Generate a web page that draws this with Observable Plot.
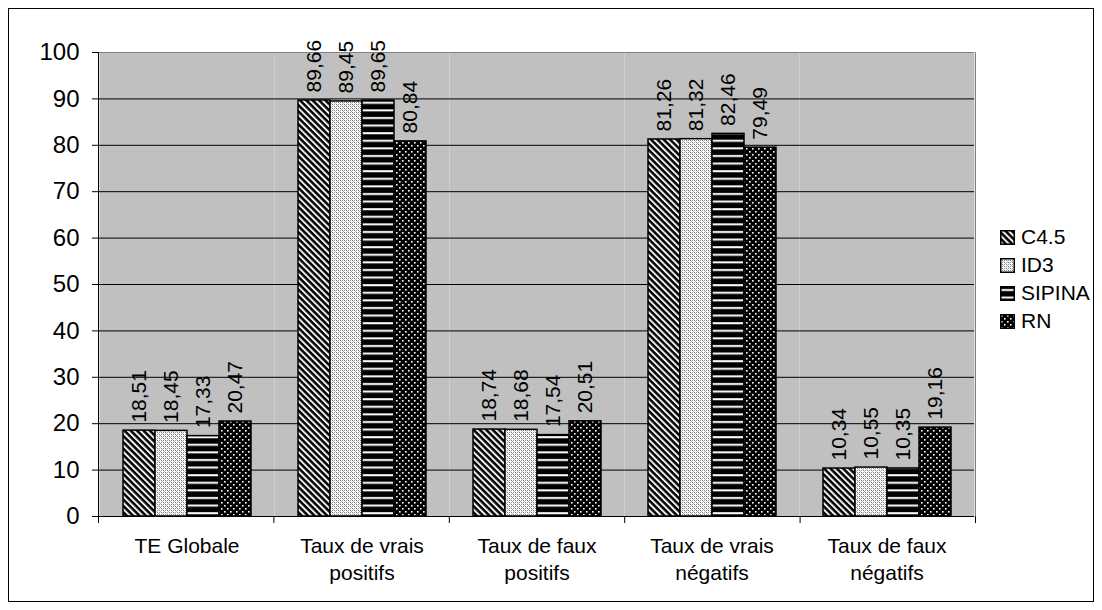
<!DOCTYPE html>
<html><head><meta charset="utf-8">
<script src="https://cdn.jsdelivr.net/npm/d3@7"></script>
<script src="https://cdn.jsdelivr.net/npm/@observablehq/plot@0.6"></script>
<style>
body{margin:0;background:#fff;font-family:"Liberation Sans",Arial,sans-serif;}
#wrap{position:relative;width:1102px;height:610px;overflow:hidden;}
#border{position:absolute;left:8px;top:8px;width:1086px;height:594px;border:1px solid #000;box-sizing:border-box;pointer-events:none;}
#chart{position:absolute;left:0;top:0;}
#legend{position:absolute;left:1000px;top:223px;font-size:21px;color:#000;}
.item{height:28px;display:flex;align-items:center;}
.item svg{margin-right:6px;}
</style>
</head><body>
<svg width="0" height="0" style="position:absolute">
<defs>
<pattern id="pat-c45" width="4.5" height="4.5" patternUnits="userSpaceOnUse" patternTransform="rotate(-45)">
  <rect width="4.5" height="4.5" fill="#000"/>
  <rect width="2" height="4.5" fill="#f0f0f0"/>
</pattern>
<pattern id="pat-id3" width="4" height="4" patternUnits="userSpaceOnUse">
  <rect width="4" height="4" fill="#fff"/>
  <rect x="0" y="0" width="1" height="1" fill="#777"/>
  <rect x="2" y="2" width="1" height="1" fill="#777"/>
  <rect x="2" y="0" width="1" height="1" fill="#999"/>
  <rect x="0" y="2" width="1" height="1" fill="#999"/>
  <rect x="1" y="1" width="1" height="1" fill="#bbb"/>
  <rect x="3" y="3" width="1" height="1" fill="#bbb"/>
</pattern>
<pattern id="pat-sipina" width="8" height="7.6" patternUnits="userSpaceOnUse">
  <rect width="8" height="7.6" fill="#000"/>
  <rect y="3" width="8" height="2" fill="#fff"/>
</pattern>
<pattern id="pat-rn" width="6" height="6" patternUnits="userSpaceOnUse">
  <rect width="6" height="6" fill="#000"/>
  <rect x="1" y="1" width="1.6" height="1.6" fill="#fff"/>
  <rect x="4" y="4" width="1.6" height="1.6" fill="#fff"/>
</pattern>
</defs>
</svg>
<div id="wrap">
  <div id="chart"></div>
  <div id="border"></div>
  <div id="legend"></div>
</div>
<script>
const categories = ["TE Globale", "Taux de vrais positifs", "Taux de faux positifs", "Taux de vrais négatifs", "Taux de faux négatifs"];
const categoryLabels = ["TE Globale", "Taux de vrais\npositifs", "Taux de faux\npositifs", "Taux de vrais\nnégatifs", "Taux de faux\nnégatifs"];
const series = ["C4.5", "ID3", "SIPINA", "RN"];
const c45 = [18.51, 89.66, 18.74, 81.26, 10.34];
const id3 = [18.45, 89.45, 18.68, 81.32, 10.55];
const sipina = [17.33, 89.65, 17.54, 82.46, 10.35];
const rn = [20.47, 80.84, 20.51, 79.49, 19.16];
const yTicks = [0, 10, 20, 30, 40, 50, 60, 70, 80, 90, 100];
const patternIds = ["pat-c45", "pat-id3", "pat-sipina", "pat-rn"];

const seriesValues = [c45, id3, sipina, rn];
const data = categories.flatMap((c, i) => series.map((s, j) => ({category: c, series: s, value: seriesValues[j][i]})));
const fmt = v => v.toFixed(2).replace(".", ",");

const chart = Plot.plot({
  width: 1102, height: 610,
  marginLeft: 98, marginRight: 127, marginTop: 52, marginBottom: 94,
  style: {fontFamily: "'Liberation Sans', Arial, sans-serif", fontSize: "21px", background: "transparent", color: "#000"},
  fx: {domain: categories, padding: 0, axis: null, label: null},
  x: {domain: series, paddingInner: 0, paddingOuter: 0.72, axis: null},
  y: {domain: [0, 100], ticks: yTicks, tickSize: 7, tickPadding: 13, label: null, tickFormat: d => d},
  color: {domain: series, range: patternIds.map(id => `url(#${id})`)},
  marks: [
    Plot.frame({fill: "#c0c0c0"}),
    Plot.ruleY(yTicks.slice(1, -1), {stroke: "#000", strokeWidth: 1}),
    Plot.ruleY([100], {stroke: "#808080", strokeWidth: 1}),
    Plot.barY(data, {fx: "category", x: "series", y: "value", fill: "series", stroke: "#000", strokeWidth: 1.5}),
    Plot.text(data, {fx: "category", x: "series", y: "value", text: d => fmt(d.value), rotate: -90, textAnchor: "start", dy: -8, fontSize: 21, fill: "#000"}),
    Plot.ruleY([0], {stroke: "#000", strokeWidth: 1}),
    Plot.text(categories, {fx: d => d, text: d => categoryLabels[categories.indexOf(d)], frameAnchor: "bottom", lineAnchor: "top", dy: 17, lineHeight: 1.3, fontSize: 21, fill: "#000"})
  ]
});
document.getElementById("chart").appendChild(chart);

// axis decorations derived from the plot's own scales
const svg = d3.select(chart);
svg.selectAll('[aria-label="y-axis tick label"] text, [aria-label="y-axis tick label"]').attr("font-size", 24);
const fxS = chart.scale("fx");
const yS = chart.scale("y");
const band = d3.scaleBand().domain(fxS.domain).range(fxS.range).padding(0);
const yLin = d3.scaleLinear().domain(yS.domain).range(yS.range);
const y0 = yLin(0), yTop = yLin(100);
const bounds = fxS.domain.map(d => band(d)).concat([band.range()[1]]);
const g = svg.append("g");
bounds.forEach(b => g.append("line").attr("x1", b + 0.5).attr("x2", b + 0.5).attr("y1", y0).attr("y2", y0 + 7).attr("stroke", "#000"));
g.append("line").attr("x1", band.range()[1] + 0.5).attr("x2", band.range()[1] + 0.5).attr("y1", yTop).attr("y2", y0).attr("stroke", "#808080");
g.append("line").attr("x1", band.range()[0] + 0.5).attr("x2", band.range()[0] + 0.5).attr("y1", yTop).attr("y2", y0 + 7).attr("stroke", "#000");

// legend
const legend = d3.select("#legend");
series.forEach((s, i) => {
  const item = legend.append("div").attr("class", "item");
  const sw = item.append("svg").attr("width", 15).attr("height", 15);
  sw.append("rect").attr("x", 0.75).attr("y", 0.75).attr("width", 13.5).attr("height", 13.5)
    .attr("fill", `url(#${patternIds[i]})`).attr("stroke", "#000").attr("stroke-width", 1.5);
  item.append("span").text(s);
});
</script>
</body></html>
